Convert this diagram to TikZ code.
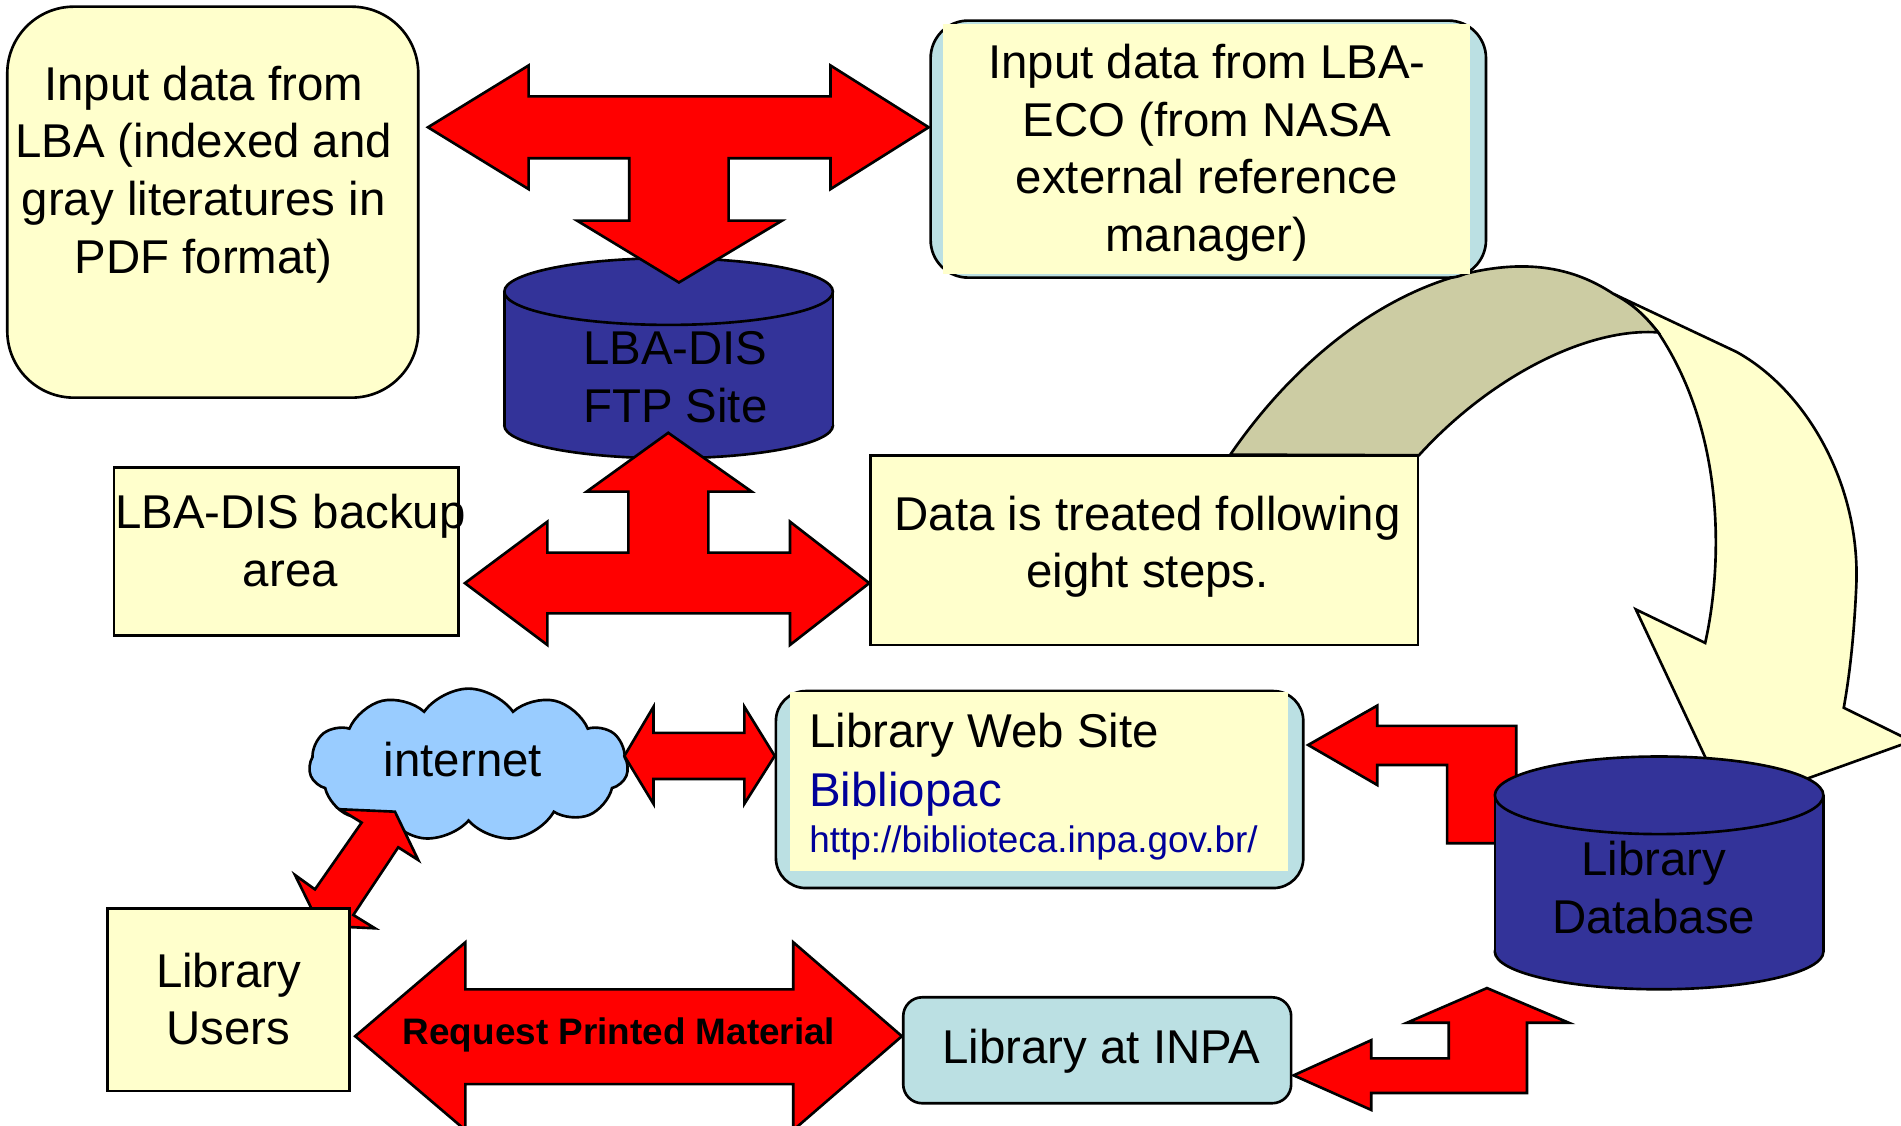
\documentclass[tikz,border=0pt]{standalone}
\usepackage{fontspec}
\setmainfont{Liberation Sans}
\usetikzlibrary{shapes.symbols}
\definecolor{lyel}{HTML}{FFFFCC}
\definecolor{lblue}{HTML}{BBE0E3}
\definecolor{dbblue}{HTML}{333399}
\definecolor{cloudblue}{HTML}{99CCFF}
\definecolor{foldtan}{HTML}{CCCCA3}
\definecolor{linkblue}{HTML}{000099}
\newlength\uu
\setlength\uu{0.012124cm}
\begin{document}
\begin{tikzpicture}[x=0.012124cm, y=-0.012124cm,
  ln/.style={line width=0.75pt},
  yelbox/.style={draw, ln, fill=lyel, inner sep=0pt, outer sep=0pt},
  bluebox/.style={draw, ln, fill=lblue, inner sep=0pt, outer sep=0pt},
  cover/.style={fill=lyel, inner sep=0pt, outer sep=0pt},
  blockarrow/.style={draw, ln, fill=red, line join=miter},
  txt/.style={font=\fontsize{13.5}{16.45}\selectfont, align=center, inner sep=0pt},
  small/.style={font=\fontsize{10.5}{12.6}\selectfont, inner sep=0pt},
]
\useasboundingbox (0,0) rectangle (1568,928);

% ---------- big curved arrow (drawn first, boxes cover its ends)
\filldraw[ln, fill=lyel, line join=miter]
  (1330.8,242.4) -- (1432.2,290.2)
  .. controls (1490,322) and (1535,400) .. (1531.1,483.9)
  .. controls (1529,530) and (1525,560) .. (1520.8,583.8)
  -- (1576.7,611.3) -- (1425.8,665.5) -- (1349.3,502.7) -- (1406.5,530.3)
  .. controls (1420,470) and (1425,360) .. (1367.7,274.2)
  .. controls (1355,258) and (1345,250) .. (1330.8,242.4)
  -- cycle;
\filldraw[ln, fill=foldtan]
  (1014.8,375) .. controls (1080,280) and (1170,222) .. (1251.6,219.8)
  .. controls (1290,219) and (1315,232) .. (1330.8,242.4)
  .. controls (1345,250) and (1355,258) .. (1367.7,274.2)
  .. controls (1310,270) and (1230,310) .. (1170.4,375.5)
  -- cycle;

% ---------- top boxes
\node[yelbox, rounded corners=0.667cm, minimum width=339*\uu, minimum height=322.5*\uu] (src1) at (175.5,166.75) {};
\node[txt] (src1t) at (168,144) {Input data from\\LBA (indexed and\\gray literatures in\\PDF format)};

\node[bluebox, rounded corners=0.376cm, minimum width=458.1*\uu, minimum height=212*\uu] (src2) at (996.65,123) {};
\node[cover, minimum width=434.9*\uu, minimum height=206*\uu] (src2y) at (995.05,123) {};
\node[txt] (src2t) at (995.5,126) {Input data from LBA-\\ECO (from NASA\\external reference\\manager)};

% ---------- FTP cylinder
\filldraw[ln, fill=dbblue] (551.5,351) ellipse [x radius=135.5, y radius=27];
\fill[dbblue] (416,240.5) rectangle (687,351);
\draw[ln] (416,240.5) -- (416,351) (687,240.5) -- (687,351);
\filldraw[ln, fill=dbblue] (551.5,240.5) ellipse [x radius=135.5, y radius=27.5];
\node[txt] (ftp) at (557,311) {LBA-DIS\\FTP Site};

% ---------- top T arrow
\draw[blockarrow] (353,105) -- (436,54) -- (436,79.5) -- (685,79.5) -- (685,54) -- (766,105)
  -- (685,156) -- (685,130.5) -- (601,130.5) -- (601,182) -- (645,182) -- (560,233)
  -- (476,182) -- (519,182) -- (519,130.5) -- (436,130.5) -- (436,156) -- cycle;

% ---------- middle boxes
\node[yelbox, minimum width=284.4*\uu, minimum height=138.6*\uu] (backup) at (236.2,455) {};
\node[txt] (backupt) at (239.5,446) {LBA-DIS backup\\area};
\node[yelbox, minimum width=451.6*\uu, minimum height=156.5*\uu] (treat) at (943.8,453.75) {};
\node[txt] (treatt) at (946.5,451) {Data is treated following\\eight steps.};

% ---------- middle arrow
\draw[blockarrow] (551.2,357) -- (620,405.5) -- (584.3,405.5) -- (584.3,455.8) -- (651.6,455.8)
  -- (651.6,430.3) -- (717,481) -- (651.6,532) -- (651.6,505.9) -- (451.5,505.9) -- (451.5,532)
  -- (383.5,481) -- (451.5,430.3) -- (451.5,455.8) -- (518.3,455.8) -- (518.3,405.5) -- (483.9,405.5) -- cycle;

% ---------- arrow DB -> web site (behind the DB cylinder)
\draw[blockarrow] (1079,614.5) -- (1136,582) -- (1136,598.7) -- (1250.6,598.7) -- (1250.6,695.5)
  -- (1193.6,695.5) -- (1193.6,631) -- (1136,631) -- (1136,647.5) -- cycle;

% ---------- Library database cylinder
\filldraw[ln, fill=dbblue] (1368.5,785) ellipse [x radius=135.5, y radius=31];
\fill[dbblue] (1233,656) rectangle (1504,785);
\draw[ln] (1233,656) -- (1233,785) (1504,656) -- (1504,785);
\filldraw[ln, fill=dbblue] (1368.5,656) ellipse [x radius=135.5, y radius=32];
\node[txt] (db) at (1364,732) {Library\\Database};

% ---------- web site box
\node[bluebox, rounded corners=0.3cm, minimum width=435*\uu, minimum height=162.5*\uu] (web) at (857.5,651.25) {};
\node[cover, minimum width=410*\uu, minimum height=147.5*\uu] (weby) at (857,644.75) {};
\node[txt, anchor=base west] (webt1) at (667,616.5) {Library Web Site};
\node[txt, anchor=base west, text=linkblue] (webt2) at (667,665) {Bibliopac};
\node[small, anchor=base west, text=linkblue] (webt3) at (667,703.2) {http://biblioteca.inpa.gov.br/};

% ---------- internet cloud
\node[cloud, draw, ln, fill=cloudblue, cloud puffs=11, cloud puff arc=110, aspect=2.1,
      minimum width=263*\uu, minimum height=126*\uu, inner sep=0pt] (cloud) at (386.5,631) {};
\node[txt, anchor=base] (cloudt) at (381.8,640.6) {internet};

% ---------- internet <-> web arrow
\draw[blockarrow] (515,623.5) -- (539,583) -- (539,604.5) -- (614,604.5) -- (614,583) -- (639,623.5)
  -- (614,663) -- (614,642.5) -- (539,642.5) -- (539,663) -- cycle;

% ---------- internet <-> users arrow
\draw[blockarrow] (280.4,667.5) -- (325.8,669.5) -- (345,709.4) -- (328.5,698.9) -- (291.4,754.7)
  -- (309.3,765.7) -- (263.9,763.5) -- (243.3,721.7) -- (259.8,733.6) -- (298.3,678.5) -- cycle;

% ---------- bottom boxes
\node[yelbox, minimum width=199.9*\uu, minimum height=150.7*\uu] (users) at (188.45,824.65) {};
\node[txt] (userst) at (188.5,824) {Library\\Users};
\node[bluebox, rounded corners=0.19cm, minimum width=320*\uu, minimum height=87.4*\uu] (inpa) at (905,866.3) {};
\node[txt] (inpat) at (908.5,867) {Library at INPA};

% ---------- request arrow
\draw[blockarrow] (293,854.7) -- (383.9,777.2) -- (383.9,816.1) -- (654.3,816.1) -- (654.3,777.2)
  -- (743.9,854.7) -- (654.3,932.2) -- (654.3,894.2) -- (383.9,894.2) -- (383.9,932.2) -- cycle;
\node[font=\fontsize{10.5}{12.6}\selectfont\bfseries, inner sep=0pt, anchor=base] (req) at (510.6,861.8) {Request Printed Material};

% ---------- INPA -> DB arrow
\draw[blockarrow] (1067,887) -- (1131,858) -- (1131,873) -- (1195,873) -- (1195,843.6) -- (1160.5,843.6)
  -- (1226.5,815) -- (1294,843.6) -- (1259.5,843.6) -- (1259.5,901.5) -- (1131,901.5) -- (1131,915.5) -- cycle;
\end{tikzpicture}
\end{document}
